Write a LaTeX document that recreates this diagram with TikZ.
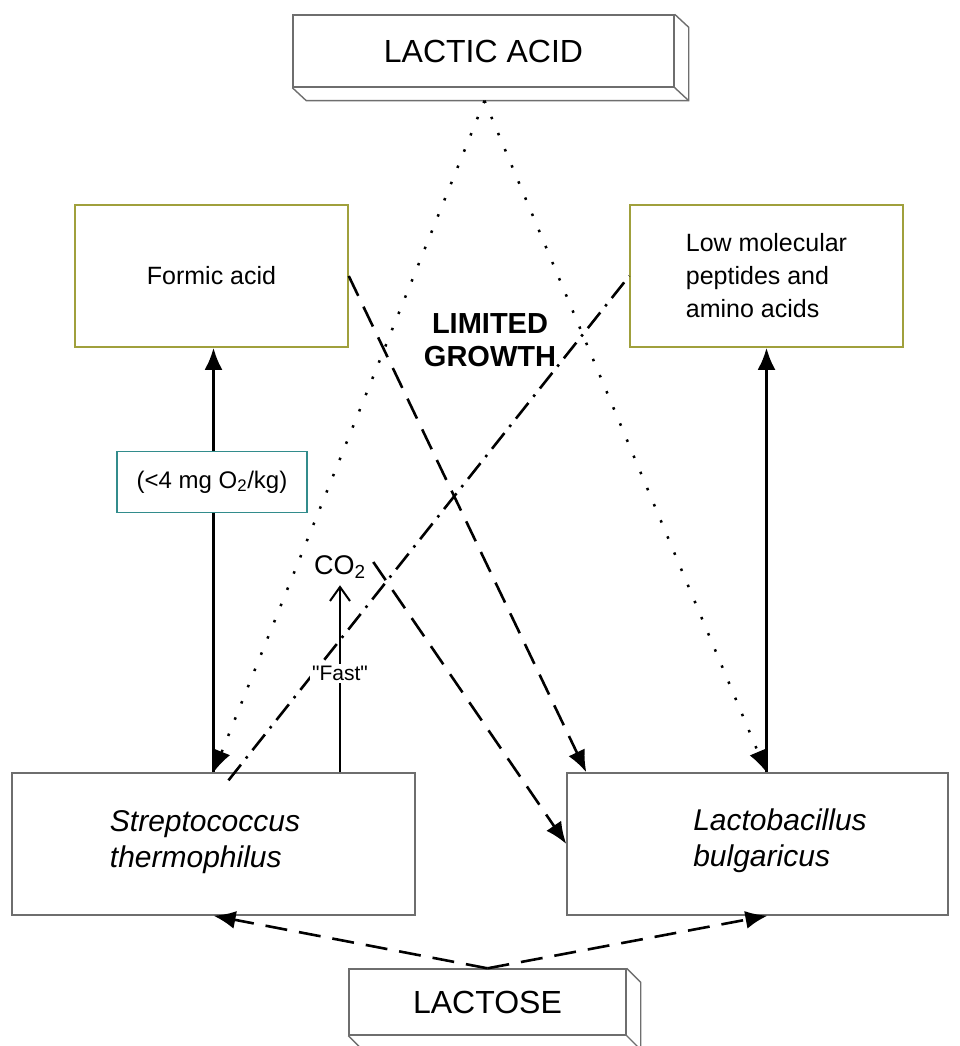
\documentclass[tikz,border=0pt]{standalone}
\usepackage{fontspec}
\setmainfont{Liberation Sans}
\newfontfamily\quotefont{Liberation Sans}
\usetikzlibrary{arrows.meta,positioning,calc}
\definecolor{olivebox}{RGB}{160,160,60}
\definecolor{tealbox}{RGB}{50,140,140}
\definecolor{framegray}{RGB}{110,110,110}
\tikzset{>={Latex[length=22pt,width=18pt]},
frame/.style={draw=framegray, line width=1.4pt},
slab/.style={frame, fill=white, font=\fontsize{32}{38}\selectfont},
prod/.style={draw=olivebox, line width=1.5pt, minimum width=273pt, minimum height=142pt, align=left, font=\fontsize{25}{33}\selectfont},
bact/.style={frame, minimum height=142pt, font=\itshape\fontsize{30}{36}\selectfont},
solidarr/.style={->, line width=3pt},
dasharr/.style={->, line width=2.6pt, dash pattern=on 22pt off 12pt},
dotarr/.style={->, line width=2.5pt, dash pattern=on 2.5pt off 15pt},
dashdot/.style={line width=2.6pt, dash pattern=on 20pt off 8pt on 2.5pt off 8pt}}

\begin{document}
\begin{tikzpicture}[x=1pt,y=-1pt]
\useasboundingbox (0,0) rectangle (959,1046);
% Sources
\node[slab, minimum width=381pt, minimum height=72pt] (lactic) at (483.5,51) {LACTIC ACID};
\draw[frame] (lactic.north east) -- ++(14,13) |- ([shift={(14,13)}]lactic.south west) -- (lactic.south west);
\draw[frame] (lactic.south east) -- ++(14,13);
\node[slab, minimum width=277pt, minimum height=66pt] (lactose) at (487.5,1002) {LACTOSE};
\draw[frame] (lactose.north east) -- ++(14,14) |- ([shift={(14,14)}]lactose.south west) -- (lactose.south west);
\draw[frame] (lactose.south east) -- ++(14,14);
% Products
\node[prod] (formic) at (211.5,276) {Formic acid};
\node[prod] (peptides) at (766.5,276) {Low molecular\\peptides and\\amino acids};
% Bacteria
\node[bact, minimum width=403pt] (strep) at (213.5,844) {};
\node[font=\itshape\fontsize{30}{36}\selectfont, align=left] (streptext) at (205,842) {Streptococcus\\thermophilus};
\node[bact, minimum width=381pt] (lacto) at (757.5,844) {};
\node[font=\itshape\fontsize{30}{36}\selectfont, align=left] (lactotext) at (780,841) {Lactobacillus\\bulgaricus};
\node[font=\fontsize{27}{30}\selectfont] (co2) at (340,567) {CO\textsubscript{2}};
\node[font=\bfseries\fontsize{29}{33}\selectfont, align=center] (limited) at (490,340) {LIMITED\\GROWTH};
\coordinate (lacticbase) at ($(lactic.south)+(1,13)$);
% Connectors
\draw[dotarr] (lacticbase) -- (strep.north);
\draw[dotarr] (lacticbase) -- (peptides.south |- lacto.north);
\draw[solidarr] (strep.north) -- (strep.north |- formic.south);
\draw[solidarr] (peptides.south |- lacto.north) -- (peptides.south);
\draw[dasharr] (formic.east) -- ([xshift=20pt]lacto.north west);
\draw[dashdot] ([xshift=15pt,yshift=-8pt]strep.north) -- (peptides.west);
\draw[->, line width=2pt, >={Straight Barb[length=14pt,width=20pt]}] (co2.south |- strep.north) -- node[pos=0.53, fill=white, inner sep=2pt, font=\quotefont\fontsize{21}{24}\selectfont] (fast) {"Fast"} ([yshift=-3pt]co2.south);
\draw[dasharr] ([shift={(4pt,5pt)}]co2.east) -- (lacto.west);
\draw[dasharr] (lactose.north) -- (strep.south);
\draw[dasharr] (lactose.north) -- ([xshift=10pt]lacto.south);
\node[draw=tealbox, line width=1.5pt, fill=white, minimum width=190pt, minimum height=61pt, font=\fontsize{24}{28}\selectfont] (oxygen) at (212,482) {(<4 mg O\textsubscript{2}/kg)};
\end{tikzpicture}
\end{document}
